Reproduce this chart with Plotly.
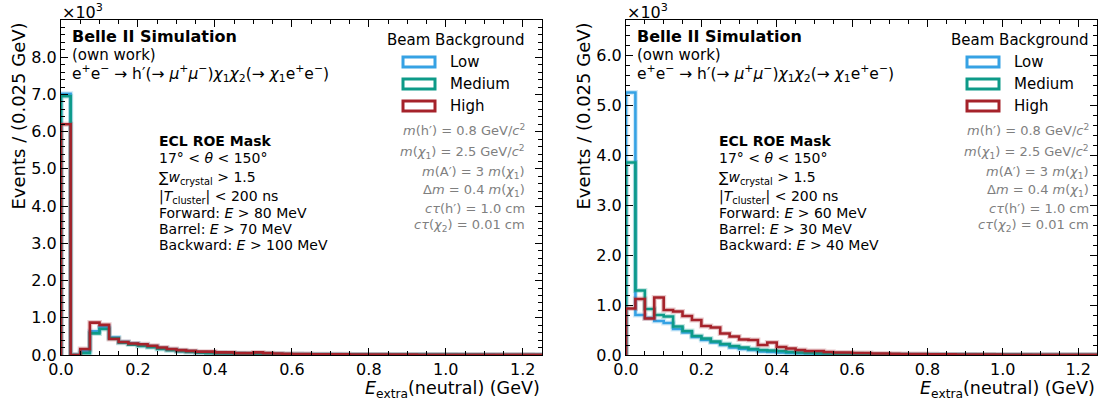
import numpy as np
import plotly.graph_objects as go

W, H = 1109, 403

# ---------------- data (events per 0.025 GeV bin, in units of 10^3) ----------------
BIN_LO, BIN_HI, N_BINS = 0.0, 1.25, 50

left_low = [7.02, 0.00, 0.10, 0.64, 0.75, 0.47, 0.35, 0.31, 0.27, 0.23, 0.18, 0.14, 0.11, 0.09, 0.07,
            0.06, 0.05, 0.045, 0.04, 0.035, 0.03, 0.03, 0.025, 0.02, 0.02, 0.018, 0.015, 0.015, 0.012, 0.01,
            0.01, 0.01, 0.008, 0.008, 0.007, 0.006, 0.006, 0.005, 0.005, 0.004, 0.004, 0.004, 0.003, 0.003,
            0.003, 0.002, 0.002, 0.002, 0.002, 0.002]
left_medium = [6.95, 0.00, 0.05, 0.58, 0.70, 0.45, 0.33, 0.28, 0.24, 0.21, 0.16, 0.13, 0.10, 0.08, 0.06,
               0.05, 0.045, 0.04, 0.035, 0.03, 0.028, 0.025, 0.02, 0.02, 0.018, 0.015, 0.014, 0.012, 0.01, 0.01,
               0.009, 0.008, 0.008, 0.007, 0.006, 0.006, 0.005, 0.005, 0.004, 0.004, 0.004, 0.003, 0.003, 0.003,
               0.002, 0.002, 0.002, 0.002, 0.002, 0.001]
left_high = [6.20, 0.00, 0.16, 0.87, 0.81, 0.43, 0.35, 0.31, 0.29, 0.25, 0.20, 0.16, 0.13, 0.11, 0.09,
             0.09, 0.07, 0.07, 0.05, 0.05, 0.07, 0.05, 0.04, 0.03, 0.025, 0.025, 0.02, 0.02, 0.02, 0.018,
             0.015, 0.015, 0.012, 0.012, 0.01, 0.01, 0.01, 0.008, 0.008, 0.007, 0.007, 0.006, 0.006, 0.005,
             0.005, 0.005, 0.004, 0.004, 0.004, 0.003]

right_low = [5.25, 0.80, 0.74, 0.68, 0.64, 0.52, 0.45, 0.36, 0.30, 0.25, 0.20, 0.15, 0.12, 0.10, 0.07,
             0.06, 0.05, 0.04, 0.035, 0.03, 0.025, 0.02, 0.018, 0.015, 0.012, 0.01, 0.01, 0.008, 0.007, 0.006,
             0.005, 0.005, 0.004, 0.004, 0.003, 0.003, 0.003, 0.002, 0.002, 0.002, 0.002, 0.002, 0.001, 0.001,
             0.001, 0.001, 0.001, 0.001, 0.001, 0.001]
right_medium = [3.85, 1.29, 0.92, 0.80, 0.77, 0.57, 0.48, 0.38, 0.33, 0.27, 0.22, 0.18, 0.15, 0.12, 0.10,
                0.09, 0.08, 0.06, 0.05, 0.04, 0.035, 0.03, 0.025, 0.02, 0.018, 0.015, 0.012, 0.01, 0.009, 0.008,
                0.007, 0.006, 0.005, 0.005, 0.004, 0.004, 0.003, 0.003, 0.003, 0.002, 0.002, 0.002, 0.002, 0.001,
                0.001, 0.001, 0.001, 0.001, 0.001, 0.001]
right_high = [0.93, 1.12, 0.73, 1.15, 0.90, 0.87, 0.78, 0.70, 0.58, 0.55, 0.43, 0.37, 0.31, 0.30, 0.20,
              0.25, 0.16, 0.13, 0.10, 0.08, 0.08, 0.06, 0.05, 0.05, 0.04, 0.04, 0.03, 0.03, 0.025, 0.02,
              0.02, 0.018, 0.015, 0.012, 0.012, 0.01, 0.01, 0.008, 0.008, 0.007, 0.006, 0.006, 0.005, 0.005,
              0.004, 0.004, 0.004, 0.003, 0.003, 0.003]

series_names = ["Low", "Medium", "High"]
series_colors = ["#36a2e4", "#0d9a88", "#a5222a"]

y_max_left, y_max_right = 9.0, 6.7
x_ticks = [0.0, 0.2, 0.4, 0.6, 0.8, 1.0, 1.2]
y_ticks_left = [0, 1, 2, 3, 4, 5, 6, 7, 8]
y_ticks_right = [0, 1, 2, 3, 4, 5, 6]

cuts_left = ["80", "70", "100"]
cuts_right = ["60", "30", "40"]

params_text = [
    "<i>m</i>(h′) = 0.8 GeV/<i>c</i><sup>2</sup>",
    "<i>m</i>(<i>χ</i><sub>1</sub>) = 2.5 GeV/<i>c</i><sup>2</sup>",
    "<i>m</i>(A′) = 3 <i>m</i>(<i>χ</i><sub>1</sub>)",
    "Δ<i>m</i> = 0.4 <i>m</i>(<i>χ</i><sub>1</sub>)",
    "<i>cτ</i>(h′) = 1.0 cm",
    "<i>cτ</i>(<i>χ</i><sub>2</sub>) = 0.01 cm",
]

# ---------------- layout helpers ----------------
def px(x):
    return x / W

def py(y):
    return 1 - y / H

FONT = "DejaVu Sans"
panels = [
    dict(x0=61, x1=542, y0=20, y1=355, xa="x", ya="y", data=[left_low, left_medium, left_high],
         ymax=y_max_left, yt=y_ticks_left, cuts=cuts_left, ytitle_x=18, off=15, ecl_dx=96),
    dict(x0=626, x1=1097, y0=20, y1=355, xa="x2", ya="y2", data=[right_low, right_medium, right_high],
         ymax=y_max_right, yt=y_ticks_right, cuts=cuts_right, ytitle_x=583, off=6, ecl_dx=91),
]

edges = np.linspace(BIN_LO, BIN_HI, N_BINS + 1)

fig = go.Figure()
annotations = []
shapes = []

for i, p in enumerate(panels):
    for vals, name, col in zip(p["data"], series_names, series_colors):
        ys = np.concatenate([[0.0], np.asarray(vals, float), [vals[-1]]])
        xs = np.concatenate([[edges[0]], edges])
        # uncertainty halo
        fig.add_trace(go.Scatter(x=xs, y=ys, mode="lines", line=dict(shape="hv", color=col, width=5),
                                 opacity=0.22, xaxis=p["xa"], yaxis=p["ya"], showlegend=False,
                                 hoverinfo="skip"))
        fig.add_trace(go.Scatter(x=xs, y=ys, mode="lines", line=dict(shape="hv", color=col, width=2.6),
                                 xaxis=p["xa"], yaxis=p["ya"], showlegend=False, name=name))

    ax_common = dict(showline=True, linecolor="black", linewidth=1, mirror="allticks", ticks="inside",
                     ticklen=7, tickwidth=1, tickcolor="black", showgrid=False, zeroline=False,
                     tickfont=dict(family=FONT, size=16, color="black"), automargin=False)
    xkey = "xaxis" if i == 0 else "xaxis2"
    ykey = "yaxis" if i == 0 else "yaxis2"
    fig.update_layout(**{
        xkey: dict(ax_common, domain=[px(p["x0"]), px(p["x1"])], range=[BIN_LO, BIN_HI],
                   anchor=p["ya"], tickvals=x_ticks, ticktext=[f"{v:.1f}" for v in x_ticks],
                   minor=dict(ticks="inside", dtick=0.05, ticklen=4, tickcolor="black", showgrid=False)),
        ykey: dict(ax_common, domain=[py(p["y1"]), py(p["y0"])], range=[0, p["ymax"]],
                   anchor=p["xa"], tickvals=p["yt"], ticktext=[f"{v:.1f}" for v in p["yt"]],
                   minor=dict(ticks="inside", dtick=0.2, ticklen=4, tickcolor="black", showgrid=False)),
    })

    L, R = p["x0"], p["x1"]

    def ann(text, x, y, size, xanchor="left", color="black", yanchor="middle", **kw):
        annotations.append(dict(text=text, x=px(x), y=py(y), xref="paper", yref="paper",
                                xanchor=xanchor, yanchor=yanchor, showarrow=False,
                                font=dict(family=FONT, size=size, color=color), **kw))

    # axis titles
    ann("Events / (0.025 GeV)", p["ytitle_x"], p["y0"] + 1, 18, xanchor="center", yanchor="top",
        textangle=-90)
    ann("<i>E</i><sub>extra</sub>(neutral) (GeV)", R, 389, 17.5, xanchor="right")
    ann("×10<sup>3</sup>", L - 1, 11, 16)

    # experiment label
    ann("<b>Belle II Simulation</b>", L + 9, 37, 16)
    ann("(own work)", L + 9, 55, 15)
    ann("e<sup>+</sup>e<sup>−</sup> → h′(→ <i>μ</i><sup>+</sup><i>μ</i><sup>−</sup>)<i>χ</i><sub>1</sub>"
        "<i>χ</i><sub>2</sub>(→ <i>χ</i><sub>1</sub>e<sup>+</sup>e<sup>−</sup>)", L + 9, 74, 15.5)

    # ECL mask block
    ex = L + p["ecl_dx"]
    ecl = ["<b>ECL ROE Mask</b>",
           "17° < <i>θ</i> < 150°",
           "∑<i>w</i><sub>crystal</sub> > 1.5",
           "|<i>T</i><sub>cluster</sub>| < 200 ns",
           f"Forward: <i>E</i> > {p['cuts'][0]} MeV",
           f"Barrel: <i>E</i> > {p['cuts'][1]} MeV",
           f"Backward: <i>E</i> > {p['cuts'][2]} MeV"]
    ecl_y = [141, 158, 178, 197, 213, 229, 245]
    for t, yy in zip(ecl, ecl_y):
        ann(t, ex, yy, 14)

    # legend
    off = p["off"]
    ann("Beam Background", R - off, 40, 15, xanchor="right")
    leg_y = [62, 84, 106]
    rx0 = R - off - 124
    for name, col, yy in zip(series_names, series_colors, leg_y):
        shapes.append(dict(type="rect", xref="paper", yref="paper", x0=px(rx0), x1=px(rx0 + 32),
                           y0=py(yy + 5), y1=py(yy - 5), line=dict(color=col, width=3),
                           fillcolor="white"))
        ann(name, rx0 + 45, yy, 15)

    # parameters
    par_y = [130, 152, 172, 190, 208, 226]
    for t, yy in zip(params_text, par_y):
        ann(t, R - off, yy, 13, xanchor="right", color="#7f7f7f")

fig.update_layout(width=W, height=H, margin=dict(l=0, r=0, t=0, b=0),
                  paper_bgcolor="white", plot_bgcolor="white",
                  annotations=annotations, shapes=shapes, showlegend=False,
                  font=dict(family=FONT))

fig.write_html("out.html")
